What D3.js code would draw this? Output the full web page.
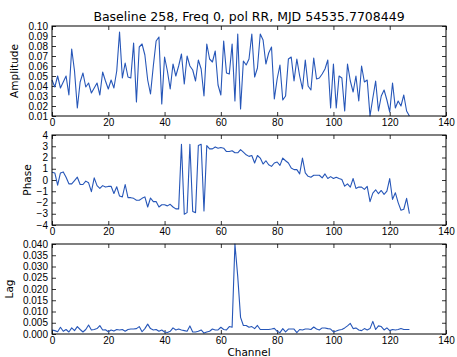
<!DOCTYPE html>
<html>
<head>
<meta charset="utf-8">
<script src="https://cdn.jsdelivr.net/npm/d3@7"></script>
<style>
  body { margin: 0; background: #fff; }
  svg { display: block; font-family: "DejaVu Sans", sans-serif; }
</style>
</head>
<body>
<svg id="chart" width="457" height="357"></svg>
<script>
const title = "Baseline 258, Freq 0, pol RR, MJD 54535.7708449";

// one value per channel, channel = array index
const amplitude = [
  .046, .039, .050, .038, .044, .050, .031, .077, .055, .018,
  .044, .053, .039, .043, .033, .038, .043, .031, .054, .045,
  .037, .046, .038, .055, .094, .048, .063, .049, .048, .083,
  .024, .079, .082, .071, .046, .032, .060, .085, .089, .022,
  .069, .055, .037, .062, .050, .060, .072, .042, .070, .060,
  .056, .045, .066, .057, .030, .082, .067, .064, .075, .041,
  .031, .085, .053, .052, .082, .025, .092, .017, .065, .061,
  .067, .092, .049, .058, .092, .086, .062, .073, .079, .027,
  .047, .061, .026, .030, .067, .069, .045, .067, .050, .037,
  .066, .040, .036, .068, .047, .048, .052, .057, .066, .018,
  .062, .018, .050, .048, .015, .062, .045, .034, .050, .025,
  .060, .044, .046, .010, .028, .045, .015, .030, .036, .026,
  .014, .043, .018, .025, .020, .031, .015, .010
];

const phase = [
  0.69, 0.63, -0.46, 0.63, 0.72, 0.25, -0.34, -0.34, -0.05, 0.25,
  -0.4, -0.4, -0.1, -0.25, -1.04, 0.19, -0.5, -0.75, -0.5, -0.63,
  -0.57, -0.55, -1.2, -0.6, -1.43, -1.5, -0.4, -1.57, -1.57, -1.63,
  -1.8, -1.8, -1.63, -1.5, -2.4, -1.6, -1.92, -1.92, -2.4, -2.2,
  -2.2, -2.3, -2.16, -2.4, -2.57, -2.57, 3.18, -3.04, -2.9, 3.18,
  -2.8, -2.9, 3.06, 3.18, -2.75, 3.06, 2.77, 2.77, 2.94, 2.83,
  2.89, 2.83, 2.53, 2.53, 2.6, 2.42, 2.42, 2.7, 2.47, 2.24,
  2.1, 2.18, 1.51, 2.18, 1.95, 1.42, 1.71, 1.36, 1.21, 1.51,
  1.6, 1.3, 1.95, 1.71, 1.51, 1.07, 0.92, 0.92, 0.54, 1.95,
  0.63, 0.33, 0.25, 0.42, 0.42, 0.42, 0.19, 0.54, 0.13, 0.3,
  0.13, 0.25, 0.13, 0.04, -0.55, -0.34, -0.63, 0.13, -0.75, -0.63,
  -0.63, -0.84, -0.57, -1.92, -1.16, -0.87, -1.22, -0.93, -1.28, -0.99,
  0.13, -1.72, -1.13, -2.01, -2.69, -2.6, -1.63, -2.98
];

const lag = [
  .0018, .0015, .0010, .0030, .0012, .0020, .0009, .0027, .0015, .0033,
  .0020, .0009, .0020, .0040, .0018, .0020, .0024, .0037, .0018, .0019,
  .0010, .0018, .0013, .0020, .0018, .0020, .0012, .0020, .0022, .0022,
  .0024, .0033, .0010, .0024, .0044, .0024, .0018, .0020, .0012, .0018,
  .0009, .0007, .0012, .0027, .0018, .0022, .0018, .0015, .0012, .0036,
  .0009, .0009, .0012, .0018, .0004, .0009, .0012, .0022, .0018, .0018,
  .0030, .0020, .0018, .0033, .0030, .0400, .0255, .0074, .0038, .0038,
  .0030, .0033, .0024, .0038, .0020, .0020, .0020, .0020, .0022, .0025,
  .0012, .0006, .0024, .0009, .0022, .0022, .0022, .0006, .0020, .0018,
  .0022, .0022, .0020, .0031, .0022, .0018, .0027, .0027, .0024, .0022,
  .0009, .0013, .0018, .0020, .0027, .0036, .0047, .0024, .0027, .0018,
  .0015, .0024, .0018, .0024, .0056, .0020, .0036, .0033, .0018, .0027,
  .0015, .0020, .0018, .0020, .0024, .0020, .0020, .0020
];

const channelTicks = [0, 20, 40, 60, 80, 100, 120, 140];
const amplitudeTicks = [0.01, 0.02, 0.03, 0.04, 0.05, 0.06, 0.07, 0.08, 0.09, 0.10];
const phaseTicks = [-4, -3, -2, -1, 0, 1, 2, 3, 4];
const lagTicks = [0, 0.005, 0.010, 0.015, 0.020, 0.025, 0.030, 0.035, 0.040];

const svg = d3.select("#chart");
const left = 52, right = 446;
const lineColor = "#2656b8";

const x = d3.scaleLinear().domain([0, 140]).range([left, right]);

const panels = [
  { values: amplitude, ticks: amplitudeTicks, fmt: d3.format(".2f"), label: "Amplitude", labelX: 18, top: 26, bottom: 116 },
  { values: phase, ticks: phaseTicks, fmt: d3.format("d"), label: "Phase", labelX: 30.5, top: 135, bottom: 225 },
  { values: lag, ticks: lagTicks, fmt: d3.format(".3f"), label: "Lag", labelX: 13, top: 244, bottom: 334 }
];

svg.append("text")
  .attr("x", (left + right) / 2)
  .attr("y", 20.5)
  .attr("text-anchor", "middle")
  .attr("font-size", 12.5)
  .text(title);

panels.forEach(p => {
  const ticks = p.ticks;
  const y = d3.scaleLinear()
    .domain([ticks[0], ticks[ticks.length - 1]])
    .range([p.bottom, p.top]);

  const g = svg.append("g");

  // ticks point inward on all four sides
  const style = a => a.call(s => s.select(".domain").remove())
    .call(s => s.selectAll("line").attr("stroke", "#000").attr("stroke-width", 0.8))
    .call(s => s.selectAll("text").attr("font-size", 10).attr("fill", "#000").attr("font-family", null));

  g.append("g")
    .attr("transform", `translate(0,${p.bottom})`)
    .call(d3.axisBottom(x).tickValues(channelTicks).tickSize(-4).tickPadding(3).tickFormat(d3.format("d")))
    .call(style);
  g.append("g")
    .attr("transform", `translate(0,${p.top})`)
    .call(d3.axisTop(x).tickValues(channelTicks).tickSize(-4).tickFormat(""))
    .call(style);
  g.append("g")
    .attr("transform", `translate(${left},0)`)
    .call(d3.axisLeft(y).tickValues(ticks).tickSize(-4).tickPadding(4).tickFormat(p.fmt))
    .call(style);
  g.append("g")
    .attr("transform", `translate(${right},0)`)
    .call(d3.axisRight(y).tickValues(ticks).tickSize(-4).tickFormat(""))
    .call(style);

  const line = d3.line()
    .x((d, i) => x(i))
    .y(d => y(d));

  g.append("path")
    .datum(p.values)
    .attr("fill", "none")
    .attr("stroke", lineColor)
    .attr("stroke-width", 1.1)
    .attr("stroke-linejoin", "round")
    .attr("d", line);

  g.append("rect")
    .attr("x", left)
    .attr("y", p.top)
    .attr("width", right - left)
    .attr("height", p.bottom - p.top)
    .attr("fill", "none")
    .attr("stroke", "#000")
    .attr("stroke-width", 1);

  svg.append("text")
    .attr("transform", `translate(${p.labelX},${(p.top + p.bottom) / 2}) rotate(-90)`)
    .attr("text-anchor", "middle")
    .attr("font-size", 10.5)
    .text(p.label);
});

svg.append("text")
  .attr("x", (left + right) / 2)
  .attr("y", 356)
  .attr("text-anchor", "middle")
  .attr("font-size", 10.5)
  .text("Channel");
</script>
</body>
</html>
